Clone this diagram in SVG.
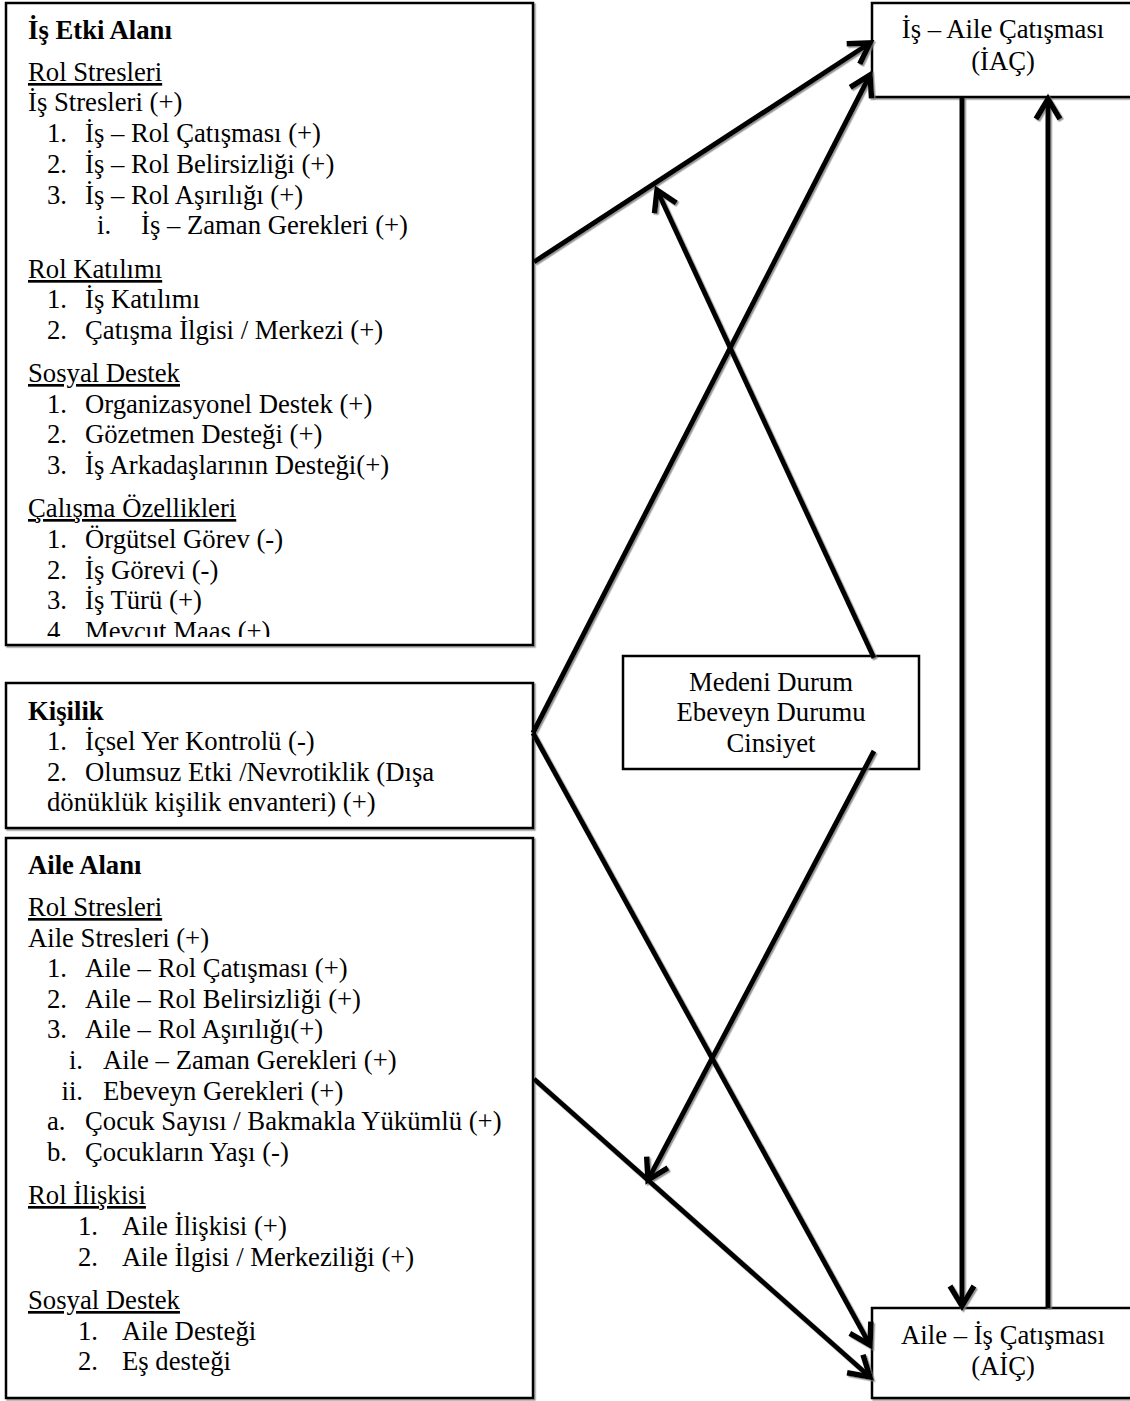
<svg xmlns="http://www.w3.org/2000/svg" width="1130" height="1401" viewBox="0 0 1130 1401">
  <style>
    .box { fill: #ffffff; stroke: #000000; stroke-width: 2.5; }
    .t { font-family: "Liberation Serif", "Times New Roman", serif; font-size: 26.7px; fill: #000000; }
    .b { font-weight: bold; }
    .u { text-decoration: underline; }
    .c { text-anchor: middle; }
    .e { text-anchor: end; }
    .link { stroke: #000000; stroke-width: 5; fill: none; marker-end: url(#arrow); }
  </style>
  <defs>
    <marker id="arrow" markerUnits="userSpaceOnUse" markerWidth="44" markerHeight="44" viewBox="-32 -22 44 44" refX="0" refY="0" orient="auto">
      <path d="M-20,-12 L0,0 L-20,12" fill="none" stroke="#000000" stroke-width="5.5" stroke-linejoin="miter" stroke-linecap="butt"/>
    </marker>
    <filter id="shade" x="-5%" y="-5%" width="110%" height="110%">
      <feDropShadow dx="1.5" dy="1.5" stdDeviation="0.6" flood-color="#7a7a7a" flood-opacity="0.8"/>
    </filter>
    <clipPath id="workClip">
      <rect x="6" y="3" width="527" height="634"/>
    </clipPath>
  </defs>

  <rect width="1130" height="1401" fill="#ffffff"/>

  <!-- Work domain -->
  <g id="work-domain">
    <rect class="box" x="6" y="3" width="527" height="642" filter="url(#shade)"/>
    <g clip-path="url(#workClip)">
      <text class="t b" x="28" y="39">İş Etki Alanı</text>
      <text class="t u" x="28" y="81">Rol Stresleri</text>
      <text class="t" x="28" y="111">İş Stresleri (+)</text>
      <text class="t" x="47" y="142">1.</text><text class="t" x="85" y="142">İş – Rol Çatışması (+)</text>
      <text class="t" x="47" y="173">2.</text><text class="t" x="85" y="173">İş – Rol Belirsizliği (+)</text>
      <text class="t" x="47" y="204">3.</text><text class="t" x="85" y="204">İş – Rol Aşırılığı (+)</text>
      <text class="t" x="97" y="234">i.</text><text class="t" x="141" y="234">İş – Zaman Gerekleri (+)</text>
      <text class="t u" x="28" y="278">Rol Katılımı</text>
      <text class="t" x="47" y="308">1.</text><text class="t" x="85" y="308">İş Katılımı</text>
      <text class="t" x="47" y="339">2.</text><text class="t" x="85" y="339">Çatışma İlgisi / Merkezi (+)</text>
      <text class="t u" x="28" y="382">Sosyal Destek</text>
      <text class="t" x="47" y="413">1.</text><text class="t" x="85" y="413">Organizasyonel Destek (+)</text>
      <text class="t" x="47" y="443">2.</text><text class="t" x="85" y="443">Gözetmen Desteği (+)</text>
      <text class="t" x="47" y="474">3.</text><text class="t" x="85" y="474">İş Arkadaşlarının Desteği(+)</text>
      <text class="t u" x="28" y="517">Çalışma Özellikleri</text>
      <text class="t" x="47" y="548">1.</text><text class="t" x="85" y="548">Örgütsel Görev (-)</text>
      <text class="t" x="47" y="579">2.</text><text class="t" x="85" y="579">İş Görevi (-)</text>
      <text class="t" x="47" y="609">3.</text><text class="t" x="85" y="609">İş Türü (+)</text>
      <text class="t" x="47" y="640">4.</text><text class="t" x="85" y="640">Mevcut Maas (+)</text>
    </g>
  </g>

  <!-- Personality -->
  <g id="personality">
    <rect class="box" x="6" y="683" width="527" height="145" filter="url(#shade)"/>
    <text class="t b" x="28" y="720">Kişilik</text>
    <text class="t" x="47" y="750">1.</text><text class="t" x="85" y="750">İçsel Yer Kontrolü (-)</text>
    <text class="t" x="47" y="781">2.</text><text class="t" x="85" y="781">Olumsuz Etki /Nevrotiklik (Dışa</text>
    <text class="t" x="47" y="811">dönüklük kişilik envanteri) (+)</text>
  </g>

  <!-- Family domain -->
  <g id="family-domain">
    <rect class="box" x="6" y="838" width="527" height="560" filter="url(#shade)"/>
    <text class="t b" x="28" y="874">Aile Alanı</text>
    <text class="t u" x="28" y="916">Rol Stresleri</text>
    <text class="t" x="28" y="947">Aile Stresleri (+)</text>
    <text class="t" x="47" y="977">1.</text><text class="t" x="85" y="977">Aile – Rol Çatışması (+)</text>
    <text class="t" x="47" y="1008">2.</text><text class="t" x="85" y="1008">Aile – Rol Belirsizliği (+)</text>
    <text class="t" x="47" y="1038">3.</text><text class="t" x="85" y="1038">Aile – Rol Aşırılığı(+)</text>
    <text class="t e" x="83" y="1069">i.</text><text class="t" x="103" y="1069">Aile – Zaman Gerekleri (+)</text>
    <text class="t e" x="83" y="1100">ii.</text><text class="t" x="103" y="1100">Ebeveyn Gerekleri (+)</text>
    <text class="t" x="47" y="1130">a.</text><text class="t" x="85" y="1130">Çocuk Sayısı / Bakmakla Yükümlü (+)</text>
    <text class="t" x="47" y="1161">b.</text><text class="t" x="85" y="1161">Çocukların Yaşı (-)</text>
    <text class="t u" x="28" y="1204">Rol İlişkisi</text>
    <text class="t" x="78" y="1235">1.</text><text class="t" x="122" y="1235">Aile İlişkisi (+)</text>
    <text class="t" x="78" y="1266">2.</text><text class="t" x="122" y="1266">Aile İlgisi / Merkeziliği (+)</text>
    <text class="t u" x="28" y="1309">Sosyal Destek</text>
    <text class="t" x="78" y="1340">1.</text><text class="t" x="122" y="1340">Aile Desteği</text>
    <text class="t" x="78" y="1370">2.</text><text class="t" x="122" y="1370">Eş desteği</text>
  </g>

  <!-- Moderators -->
  <g id="moderators">
    <rect class="box" x="623" y="656" width="296" height="113" stroke-width="2"/>
    <text class="t c" x="771" y="691">Medeni Durum</text>
    <text class="t c" x="771" y="721">Ebeveyn Durumu</text>
    <text class="t c" x="771" y="752">Cinsiyet</text>
  </g>

  <!-- Work-family conflict -->
  <g id="work-family-conflict">
    <rect class="box" x="872" y="3" width="270" height="94" filter="url(#shade)"/>
    <text class="t c" x="1003" y="38">İş – Aile Çatışması</text>
    <text class="t c" x="1003" y="70">(İAÇ)</text>
  </g>

  <!-- Family-work conflict -->
  <g id="family-work-conflict">
    <rect class="box" x="872" y="1308" width="270" height="90" filter="url(#shade)"/>
    <text class="t c" x="1003" y="1344">Aile – İş Çatışması</text>
    <text class="t c" x="1003" y="1375">(AİÇ)</text>
  </g>

  <!-- Connectors -->
  <g id="connectors" filter="url(#shade)">
    <line class="link" x1="534" y1="262" x2="870" y2="43"/>
    <line class="link" x1="533" y1="733" x2="870" y2="75"/>
    <line class="link" x1="533" y1="733" x2="870" y2="1345"/>
    <line class="link" x1="534" y1="1079" x2="870" y2="1377"/>
    <line class="link" x1="874" y1="658" x2="657" y2="190"/>
    <line class="link" x1="874" y1="751" x2="648" y2="1180"/>
    <line class="link" x1="962" y1="97" x2="962" y2="1306"/>
    <line class="link" x1="1048" y1="1308" x2="1048" y2="99"/>
  </g>
</svg>
